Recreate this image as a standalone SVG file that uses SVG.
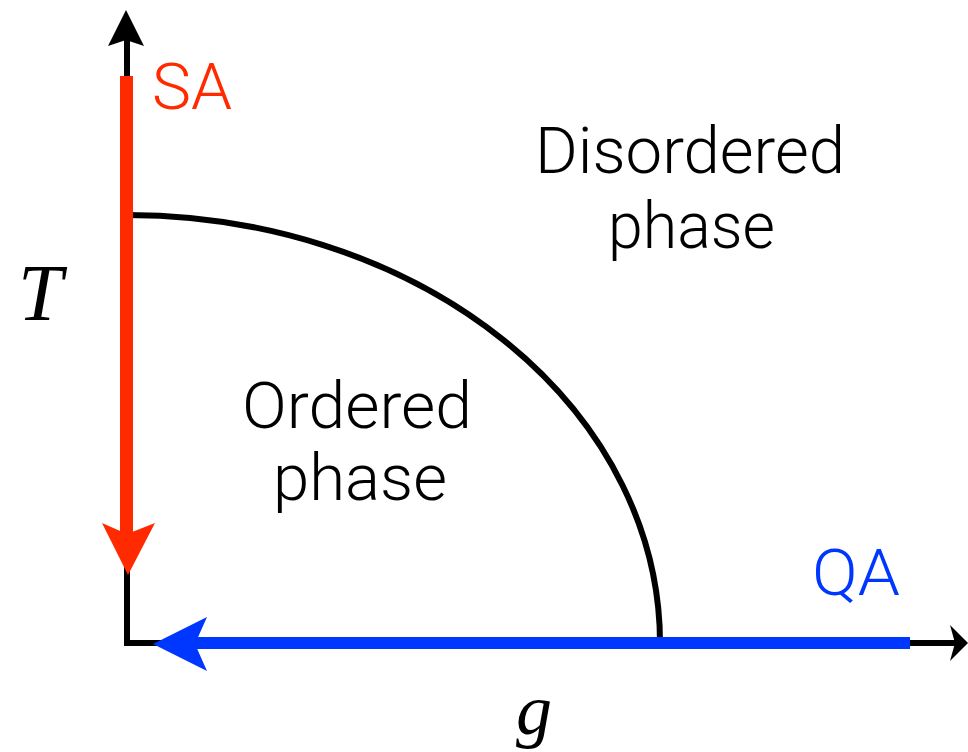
<svg xmlns="http://www.w3.org/2000/svg" width="968" height="752" viewBox="0 0 968 752">
<style>
.lbl{font-family:Roboto,"Liberation Sans",sans-serif;font-weight:300;font-size:64px;fill:#000}
.math{font-family:"Liberation Serif",serif;font-style:italic;font-size:80px;fill:#000}
</style>
<rect width="968" height="752" fill="#fff"/>
<g id="axes">
<path d="M127 643 V40 M124 643 H955" stroke="#000" stroke-width="6" fill="none"/>
<path d="M126 10 L144 46 L126 40 L108 46 Z" fill="#000"/>
<path d="M968 643 L950 625 L955 643 L950 661 Z" fill="#000"/>
</g>
<g id="boundary">
<path d="M127 215 A533 428 0 0 1 660 643" stroke="#000" stroke-width="6" fill="none"/>
</g>
<g id="connectors">
<path d="M126.5 76 V540" stroke="#FF2A00" stroke-width="13" fill="none"/>
<path d="M128 575 L155 523 L127 534 L102 523 Z" fill="#FF2A00"/>
<path d="M910 643 H195" stroke="#0037FF" stroke-width="12" fill="none"/>
<path d="M153 644 L207 617 L195 644 L207 671 Z" fill="#0037FF"/>
</g>
<g id="labels">
<text class="lbl" x="152" y="109" textLength="80" lengthAdjust="spacingAndGlyphs" style="fill:#FF2A00">SA</text>
<text class="lbl" x="812" y="595" textLength="88" lengthAdjust="spacingAndGlyphs" style="fill:#0037FF">QA</text>
<text class="lbl" x="535" y="173" textLength="310" lengthAdjust="spacingAndGlyphs">Disordered</text>
<text class="lbl" x="608" y="248" textLength="167" lengthAdjust="spacingAndGlyphs">phase</text>
<text class="lbl" x="242" y="428" textLength="230" lengthAdjust="spacingAndGlyphs">Ordered</text>
<text class="lbl" x="273" y="500" textLength="174" lengthAdjust="spacingAndGlyphs">phase</text>
<text class="math" x="18" y="320">T</text>
<text class="math" x="516" y="734" style="font-size:72px">g</text>
</g>
</svg>
